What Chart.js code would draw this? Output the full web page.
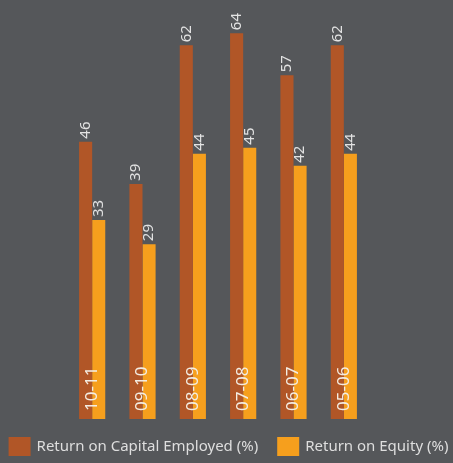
<!DOCTYPE html>
<html>
<head>
<meta charset="utf-8">
<script src="https://cdn.jsdelivr.net/npm/chart.js@4/dist/chart.umd.min.js"></script>
<style>
  html, body { margin: 0; padding: 0; background: #55575a; }
  #wrap { width: 453px; height: 463px; position: relative; }
</style>
</head>
<body>
<div id="wrap"><canvas id="returnsChart"></canvas></div>
<script>
// Returns by financial year, newest first
const years = ['10-11', '09-10', '08-09', '07-08', '06-07', '05-06'];
const roce = [46, 39, 62, 64, 57, 62];
const roe = [33, 29, 44, 45, 42, 44];

const RED = '#b15627';
const ORANGE = '#f69f1d';
const FONT = "'Noto Sans', 'Open Sans', sans-serif";

// numbers written vertically above every bar
const valueLabels = {
  id: 'valueLabels',
  afterDatasetsDraw(chart) {
    const ctx = chart.ctx;
    ctx.save();
    ctx.fillStyle = '#e2e2e2';
    ctx.font = `15px ${FONT}`;
    ctx.textAlign = 'left';
    ctx.textBaseline = 'middle';
    chart.data.datasets.forEach((ds, i) => {
      chart.getDatasetMeta(i).data.forEach((bar, j) => {
        ctx.save();
        ctx.translate(bar.x, bar.y - 3);
        ctx.rotate(-Math.PI / 2);
        ctx.fillText(String(ds.data[j]), 0, 0);
        ctx.restore();
      });
    });
    ctx.restore();
  }
};

// year names written inside the bottom of each pair of bars
const yearLabels = {
  id: 'yearLabels',
  afterDatasetsDraw(chart) {
    const ctx = chart.ctx;
    const x = chart.scales.x;
    const base = chart.scales.y.getPixelForValue(0);
    ctx.save();
    ctx.fillStyle = '#f3ece2';
    ctx.font = `17px ${FONT}`;
    ctx.textAlign = 'left';
    ctx.textBaseline = 'middle';
    years.forEach((yr, i) => {
      ctx.save();
      ctx.translate(x.getPixelForValue(i), base - 8);
      ctx.rotate(-Math.PI / 2);
      ctx.fillText(yr, 0, 0);
      ctx.restore();
    });
    ctx.restore();
  }
};

// single-row legend under the plot (the built-in one wraps at this width)
const rowLegend = {
  id: 'rowLegend',
  afterDraw(chart) {
    const ctx = chart.ctx;
    const box = { w: 22, h: 19 }, gap = 6, spacing = 19;
    ctx.save();
    ctx.font = `15px ${FONT}`;
    const items = chart.data.datasets.map(ds => ({
      text: ds.label, color: ds.backgroundColor, tw: ctx.measureText(ds.label).width
    }));
    const total = items.reduce((s, it) => s + box.w + gap + it.tw, 0) + spacing * (items.length - 1);
    let cx = (chart.width - total) / 2 + 2;
    const top = chart.chartArea.bottom + 18;
    ctx.textAlign = 'left';
    ctx.textBaseline = 'middle';
    items.forEach(it => {
      ctx.fillStyle = it.color;
      ctx.fillRect(cx, top, box.w, box.h);
      ctx.fillStyle = '#dedede';
      ctx.fillText(it.text, cx + box.w + gap, top + box.h / 2 + 0.5);
      cx += box.w + gap + it.tw + spacing;
    });
    ctx.restore();
  }
};

const hiddenAxis = (w) => ({
  display: true,
  grid: { display: false },
  border: { display: false },
  ticks: { display: false },
  afterFit: (axis) => { axis.width = w; }
});

new Chart(document.getElementById('returnsChart'), {
  type: 'bar',
  data: {
    labels: years,
    datasets: [
      { label: 'Return on Capital Employed (%)', data: roce, backgroundColor: RED },
      { label: 'Return on Equity (%)', data: roe, backgroundColor: ORANGE }
    ]
  },
  options: {
    responsive: true,
    maintainAspectRatio: false,
    animation: false,
    layout: { padding: { top: 0, bottom: 44, left: 0, right: 0 } },
    datasets: { bar: { categoryPercentage: 0.52, barPercentage: 1 } },
    plugins: {
      legend: { display: false },
      tooltip: { enabled: false }
    },
    scales: {
      x: { display: false },
      y: Object.assign(hiddenAxis(67), { min: 0, max: 69.5, position: 'left' }),
      yRight: Object.assign(hiddenAxis(84), { min: 0, max: 69.5, position: 'right' })
    }
  },
  plugins: [valueLabels, yearLabels, rowLegend]
});
</script>
</body>
</html>
